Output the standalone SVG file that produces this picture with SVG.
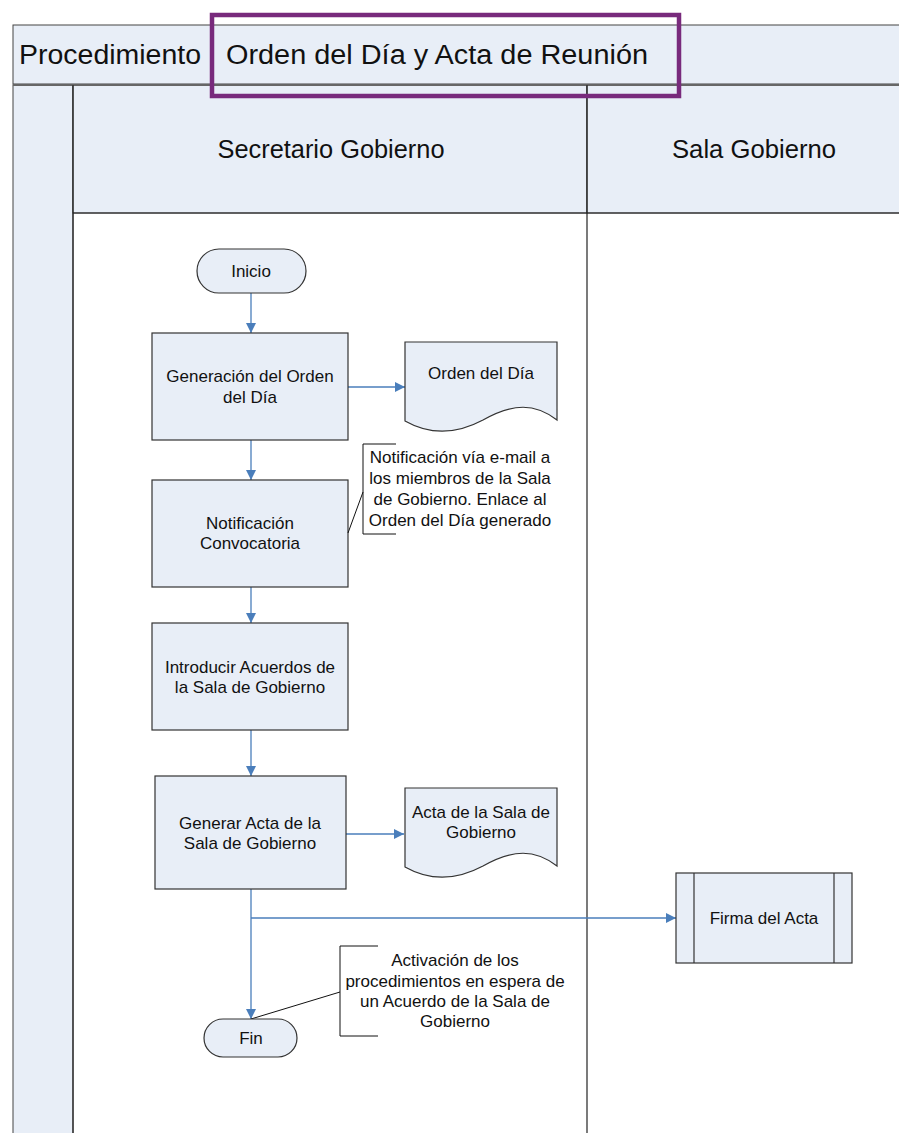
<svg xmlns="http://www.w3.org/2000/svg" width="899" height="1133" viewBox="0 0 899 1133">
<defs>
<style>
text{font-family:"Liberation Sans",Arial,sans-serif;fill:#111;text-anchor:middle}
.t{font-size:17px}
.hd{font-size:27px;text-anchor:start}
.ln{font-size:25px}
.node{fill:#E8EEF7;stroke:#333;stroke-width:1.2}
.band{fill:#E8EEF7;stroke:#444;stroke-width:1}
.lane{fill:none;stroke:#222;stroke-width:1.2}
.con{fill:none;stroke:#4A7EBB;stroke-width:1.3}
.ann{fill:none;stroke:#111;stroke-width:1}
</style>
<marker id="ah" viewBox="0 0 10 10" refX="10" refY="5" markerWidth="10" markerHeight="10" markerUnits="userSpaceOnUse" orient="auto">
<path d="M0,0 L10,5 L0,10 Z" fill="#4A7EBB"/>
</marker>
</defs>
<rect width="899" height="1133" fill="#fff"/>
<g id="frame">
<rect class="band" x="13" y="25" width="900" height="59"/>
<line x1="212" y1="25" x2="212" y2="84" stroke="#444" stroke-width="1"/>
<rect class="band" x="13" y="85" width="60" height="1060"/>
<rect class="band" x="73" y="85" width="514" height="128"/>
<rect class="band" x="587" y="85" width="330" height="128"/>
<line x1="13" y1="85" x2="899" y2="85" stroke="#666" stroke-width="2"/>
<line class="lane" x1="73" y1="213" x2="899" y2="213"/>
<line class="lane" x1="73" y1="85" x2="73" y2="1133"/>
<line class="lane" x1="587" y1="85" x2="587" y2="1133"/>
<text class="hd" x="19" y="64" textLength="182" lengthAdjust="spacingAndGlyphs">Procedimiento</text>
<text class="hd" x="226" y="64" textLength="422" lengthAdjust="spacingAndGlyphs">Orden del Día y Acta de Reunión</text>
<text class="ln" x="331" y="158" textLength="227" lengthAdjust="spacingAndGlyphs">Secretario Gobierno</text>
<text class="ln" x="754" y="158" textLength="164" lengthAdjust="spacingAndGlyphs">Sala Gobierno</text>
<rect x="212" y="15" width="467" height="81" fill="none" stroke="#782A7C" stroke-width="4.5"/>
</g>
<g id="connectors">
<line class="con" x1="251" y1="293" x2="251" y2="333" marker-end="url(#ah)"/>
<line class="con" x1="348" y1="387" x2="405" y2="387" marker-end="url(#ah)"/>
<line class="con" x1="251" y1="440" x2="251" y2="480" marker-end="url(#ah)"/>
<line class="con" x1="251" y1="587" x2="251" y2="623" marker-end="url(#ah)"/>
<line class="con" x1="251" y1="730" x2="251" y2="776" marker-end="url(#ah)"/>
<line class="con" x1="346" y1="834" x2="404" y2="834" marker-end="url(#ah)"/>
<line class="con" x1="251" y1="889" x2="251" y2="1019" marker-end="url(#ah)"/>
<polyline class="con" points="251,918 676,918" marker-end="url(#ah)"/>
</g>
<g id="inicio">
<rect class="node" x="197" y="249" width="109" height="44" rx="22" ry="22"/>
<text class="t" x="251" y="277">Inicio</text>
</g>
<g id="generacion">
<rect class="node" x="152" y="333" width="196" height="107"/>
<text class="t" x="250" y="382">Generación del Orden</text>
<text class="t" x="250" y="403">del Día</text>
</g>
<g id="orden-doc">
<path class="node" d="M405,342 L557,342 L557,420 C535,403 513,403 483,420 C455,435 428,434 405,421 Z"/>
<text class="t" x="481" y="379">Orden del Día</text>
</g>
<g id="notificacion">
<rect class="node" x="152" y="480" width="196" height="107"/>
<text class="t" x="250" y="529">Notificación</text>
<text class="t" x="250" y="549">Convocatoria</text>
</g>
<g id="nota1">
<polyline class="ann" points="396,444 363,444 363,534 396,534"/>
<line class="ann" x1="363" y1="492" x2="348" y2="533"/>
<text class="t" x="460" y="463">Notificación vía e-mail a</text>
<text class="t" x="460" y="484">los miembros de la Sala</text>
<text class="t" x="460" y="505">de Gobierno. Enlace al</text>
<text class="t" x="460" y="526">Orden del Día generado</text>
</g>
<g id="introducir">
<rect class="node" x="152" y="623" width="196" height="107"/>
<text class="t" x="250" y="673">Introducir Acuerdos de</text>
<text class="t" x="250" y="693">la Sala de Gobierno</text>
</g>
<g id="generar-acta">
<rect class="node" x="155" y="776" width="191" height="113"/>
<text class="t" x="250" y="829">Generar Acta de la</text>
<text class="t" x="250" y="849">Sala de Gobierno</text>
</g>
<g id="acta-doc">
<path class="node" d="M405,788 L557,788 L557,866 C535,849 513,849 483,866 C455,881 428,880 405,867 Z"/>
<text class="t" x="481" y="818">Acta de la Sala de</text>
<text class="t" x="481" y="838">Gobierno</text>
</g>
<g id="firma">
<rect class="node" x="676" y="873" width="176" height="90"/>
<line class="node" x1="694" y1="873" x2="694" y2="963"/>
<line class="node" x1="834" y1="873" x2="834" y2="963"/>
<text class="t" x="764" y="924">Firma del Acta</text>
</g>
<g id="nota2">
<polyline class="ann" points="378,946 340,946 340,1036 378,1036"/>
<line class="ann" x1="340" y1="992" x2="251" y2="1019"/>
<text class="t" x="455" y="966">Activación de los</text>
<text class="t" x="455" y="987">procedimientos en espera de</text>
<text class="t" x="455" y="1007">un Acuerdo de la Sala de</text>
<text class="t" x="455" y="1027">Gobierno</text>
</g>
<g id="fin">
<rect class="node" x="204" y="1019" width="93" height="38" rx="19" ry="19"/>
<text class="t" x="251" y="1044">Fin</text>
</g>
</svg>
